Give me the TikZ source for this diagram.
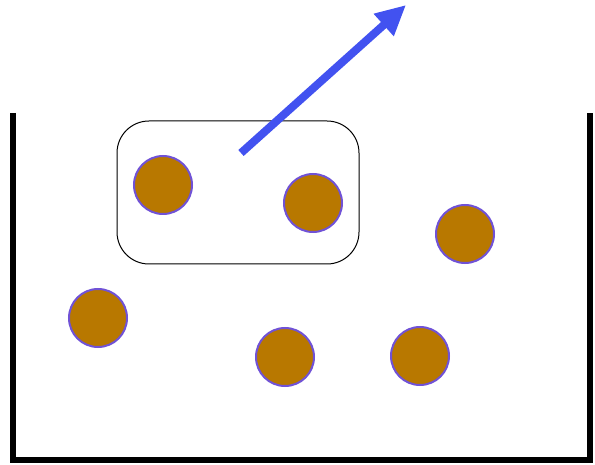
\documentclass[tikz,border=0pt]{standalone}
\usepackage{xcolor}
\usepackage{tikz}
\usetikzlibrary{arrows.meta,positioning,calc}

\definecolor{grain}{RGB}{184,120,0}
\definecolor{grainrim}{RGB}{112,82,214}
\definecolor{kick}{RGB}{66,82,240}

\begin{document}
\begin{tikzpicture}[
  x=1pt, y=-1pt,
  particle/.style={circle, draw=grainrim, fill=grain, line width=2pt, minimum size=58pt, inner sep=0pt},
  pairbox/.style={draw, rounded corners=32pt, line width=1pt, minimum width=242pt, minimum height=143pt, inner sep=0pt},
  wall/.style={line width=6pt, line cap=butt},
  escape/.style={-{Triangle[length=30pt, width=28pt]}, line width=8pt, kick},
]
  \useasboundingbox (0,0) rectangle (595,465);

  % Container
  \draw[wall] (13,113) -- (13,460) -- (590,460) -- (590,113);

  % Pair of particles inside the box
  \node[pairbox] (pair) at (238,192.5) {};
  \node[particle] (p1) at (163,185) {};
  \node[particle] (p2) at (313,203) {};

  % Other particles
  \node[particle] (p3) at (465,234) {};
  \node[particle] (p4) at (98,318) {};
  \node[particle] (p5) at (285,357) {};
  \node[particle] (p6) at (420,356) {};

  % Escaping momentum
  \coordinate (tail) at (241,153);
  \coordinate (tip) at (406,5);
  \draw[escape] (tail) -- (tip);
\end{tikzpicture}
\end{document}
